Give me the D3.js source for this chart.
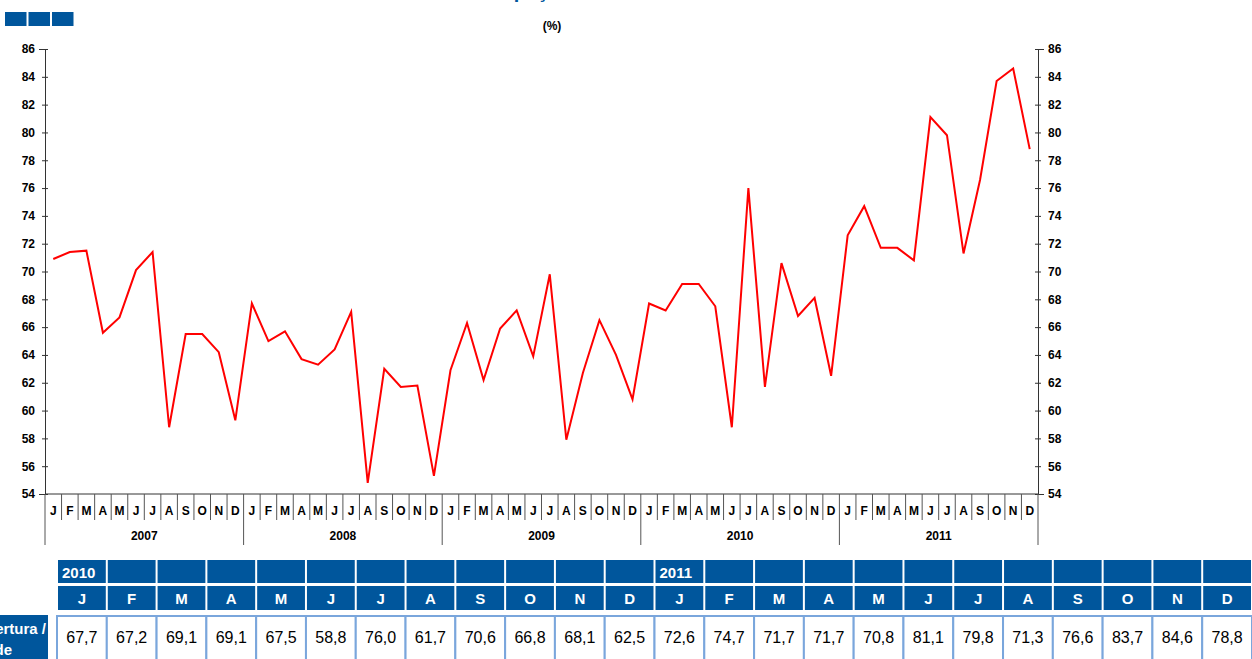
<!DOCTYPE html>
<html><head><meta charset="utf-8">
<script src="https://cdn.jsdelivr.net/npm/d3@7"></script>
<style>body{margin:0;background:#fff;overflow:hidden}text{font-family:Arial,"Liberation Sans",sans-serif}</style>
</head><body>
<svg width="1252" height="659"></svg>
<script>
var years = ["2007", "2008", "2009", "2010", "2011"];
var months = ["J","F","M","A","M","J","J","A","S","O","N","D"];
var values2007 = [70.9, 71.4, 71.5, 65.6, 66.7, 70.1, 71.4, 58.8, 65.5, 65.5, 64.2, 59.3];
var values2008 = [67.7, 65.0, 65.7, 63.7, 63.3, 64.4, 67.1, 54.8, 63.0, 61.7, 61.8, 55.3];
var values2009 = [62.9, 66.3, 62.2, 65.9, 67.2, 63.9, 69.8, 57.9, 62.7, 66.5, 64.0, 60.8];
var values2010 = [67.7, 67.2, 69.1, 69.1, 67.5, 58.8, 76.0, 61.7, 70.6, 66.8, 68.1, 62.5];
var values2011 = [72.6, 74.7, 71.7, 71.7, 70.8, 81.1, 79.8, 71.3, 76.6, 83.7, 84.6, 78.8];
var yTicks = d3.range(54, 87, 2);

var series = [].concat(values2007, values2008, values2009, values2010, values2011);
var svg = d3.select("svg");
var blue = "#00569c";

// logo + titles
svg.selectAll(".logo").data([0,1,2]).enter().append("rect")
  .attr("x", function(d){ return 5 + d*23.5; }).attr("y", 12)
  .attr("width", 21.5).attr("height", 14).attr("fill", blue);
svg.append("text").attr("x", 530).attr("y", -2).attr("text-anchor","middle")
  .attr("fill", blue).attr("font-weight","bold").attr("font-size", 20).text("Taxa de ocupação hoteleira");
svg.append("text").attr("x", 552).attr("y", 30).attr("text-anchor","middle")
  .attr("font-weight","bold").attr("font-size", 12).text("(%)");

var x0 = 45, x1 = 1038;
var x = d3.scaleBand().domain(d3.range(series.length)).range([x0, x1]);
var y = d3.scaleLinear().domain([54, 86]).range([494, 49]);

var axL = svg.append("g").attr("transform", "translate(" + x0 + ",0)")
  .call(d3.axisLeft(y).tickValues(yTicks).tickSize(6).tickPadding(4));
var axR = svg.append("g").attr("transform", "translate(" + x1 + ",0)")
  .call(d3.axisRight(y).tickValues(yTicks).tickSize(6).tickPadding(4));
[axL, axR].forEach(function(a){
  a.select(".domain").attr("stroke", "#333");
  a.selectAll(".tick line").attr("stroke", "#333").attr("transform", a === axL ? "translate(3,0)" : "translate(-3,0)");
  a.selectAll("text").attr("font-size", 12).attr("font-weight", "bold").attr("fill", "#000");
});
svg.append("line").attr("x1", x0).attr("x2", x1).attr("y1", 494).attr("y2", 494).attr("stroke", "#333");

// month and year separators
svg.selectAll(".msep").data(d3.range(series.length + 1)).enter().append("line")
  .attr("x1", function(d){ return x0 + d * x.step(); }).attr("x2", function(d){ return x0 + d * x.step(); })
  .attr("y1", 494).attr("y2", function(d){ return d % 12 === 0 ? 545 : 520; })
  .attr("stroke", "#555");
svg.selectAll(".mlab").data(series).enter().append("text")
  .attr("x", function(d, i){ return x(i) + x.bandwidth()/2; }).attr("y", 515)
  .attr("text-anchor", "middle").attr("font-size", 12).attr("font-weight", "bold")
  .text(function(d, i){ return months[i % 12]; });
svg.selectAll(".ylab").data(years).enter().append("text")
  .attr("x", function(d, i){ return x0 + (i*12 + 6) * x.step(); }).attr("y", 540)
  .attr("text-anchor", "middle").attr("font-size", 12).attr("font-weight", "bold").text(function(d){ return d; });

svg.append("path").datum(series)
  .attr("d", d3.line().x(function(d, i){ return x(i) + x.bandwidth()/2; }).y(function(d){ return y(d); }))
  .attr("fill", "none").attr("stroke", "#ff0000").attr("stroke-width", 2);

// table
var tabVals = values2010.concat(values2011);
var tx = d3.scaleBand().domain(d3.range(24)).range([58, 1253]);
var fmt = function(v){ return v.toFixed(1).replace(".", ","); };
svg.selectAll(".h1").data(tabVals).enter().append("rect")
  .attr("x", function(d, i){ return tx(i); }).attr("y", 560).attr("width", tx.bandwidth() - 2).attr("height", 23).attr("fill", blue);
svg.selectAll(".h2").data(tabVals).enter().append("rect")
  .attr("x", function(d, i){ return tx(i); }).attr("y", 586).attr("width", tx.bandwidth() - 2).attr("height", 24).attr("fill", blue);
svg.selectAll(".hy").data(["2010", "2011"]).enter().append("text")
  .attr("x", function(d, i){ return tx(i*12) + 4; }).attr("y", 578).attr("fill", "#fff")
  .attr("font-size", 15).attr("font-weight", "bold").text(function(d){ return d; });
svg.selectAll(".hm").data(tabVals).enter().append("text")
  .attr("x", function(d, i){ return tx(i) + tx.bandwidth()/2 - 1; }).attr("y", 604).attr("fill", "#fff")
  .attr("text-anchor", "middle").attr("font-size", 15).attr("font-weight", "bold").text(function(d, i){ return months[i % 12]; });
svg.selectAll(".cell").data(tabVals).enter().append("rect")
  .attr("x", function(d, i){ return tx(i) - 1; }).attr("y", 616).attr("width", tx.bandwidth()).attr("height", 50)
  .attr("fill", "#fff").attr("stroke", "#7aa6dc").attr("stroke-width", 2);
svg.selectAll(".cv").data(tabVals).enter().append("text")
  .attr("x", function(d, i){ return tx(i) + tx.bandwidth()/2 - 1; }).attr("y", 643)
  .attr("text-anchor", "middle").attr("font-size", 16).text(fmt);
svg.append("rect").attr("x", -5).attr("y", 615).attr("width", 53).attr("height", 50).attr("fill", blue);
svg.append("text").attr("x", 46).attr("y", 634).attr("text-anchor", "end").attr("fill", "#fff")
  .attr("font-size", 15).attr("font-weight", "bold").text("Cobertura /");
svg.append("text").attr("x", 12).attr("y", 655).attr("text-anchor", "end").attr("fill", "#fff")
  .attr("font-size", 15).attr("font-weight", "bold").text("Taxa de");
</script>
</body></html>
